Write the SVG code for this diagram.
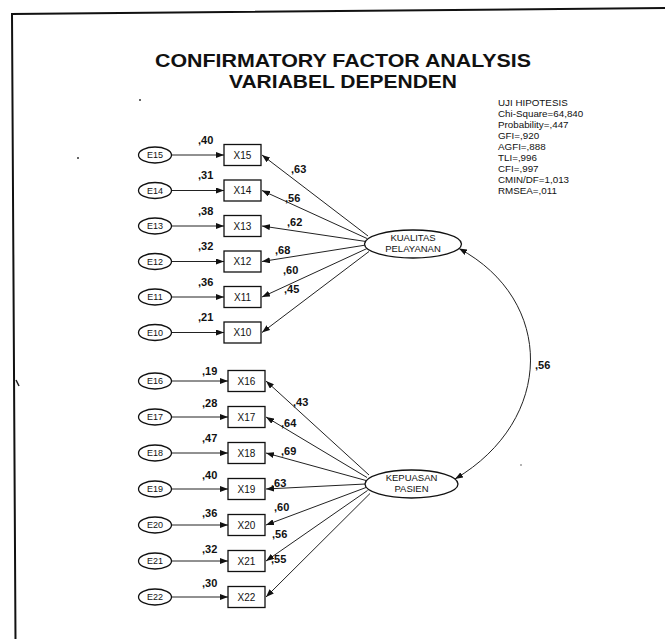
<svg xmlns="http://www.w3.org/2000/svg" width="665" height="639" viewBox="0 0 665 639">
<style>
.title{font-family:"Liberation Sans",Arial,sans-serif;font-weight:bold;font-size:18px;fill:#111;text-anchor:middle}
.stat{font-family:"Liberation Sans",Arial,sans-serif;font-size:9.8px;fill:#111}
.el{fill:#fff;stroke:#111;stroke-width:1.3}
.bx{fill:#fff;stroke:#111;stroke-width:1.3}
.et{font-family:"Liberation Sans",Arial,sans-serif;font-size:9px;fill:#111;text-anchor:middle}
.xt{font-family:"Liberation Sans",Arial,sans-serif;font-size:10px;fill:#111;text-anchor:middle}
.lt{font-family:"Liberation Sans",Arial,sans-serif;font-size:9.5px;fill:#111;text-anchor:middle}
.num{font-family:"Liberation Sans",Arial,sans-serif;font-size:11px;font-weight:bold;fill:#111}
.cn{stroke:#222;stroke-width:1;fill:none;marker-end:url(#ah)}
.cov{stroke:#222;stroke-width:1;fill:none;marker-end:url(#ah);marker-start:url(#ahs)}
.frame{stroke:#111;stroke-width:2;fill:none}
</style>
<defs>
<marker id="ah" markerWidth="8" markerHeight="6" refX="8" refY="3" orient="auto" markerUnits="userSpaceOnUse"><path d="M0,0 L8,3 L0,6 z" fill="#111"/></marker>
<marker id="ahs" markerWidth="8" markerHeight="6" refX="8" refY="3" orient="auto-start-reverse" markerUnits="userSpaceOnUse"><path d="M0,0 L8,3 L0,6 z" fill="#111"/></marker>
</defs>
<rect width="665" height="639" fill="#fff"/>
<path class="frame" d="M665,8 L12,14 L15.5,639"/>
<line x1="16" y1="380" x2="19" y2="386" stroke="#222" stroke-width="1.5"/>
<circle cx="140" cy="100" r="1" fill="#333"/>
<circle cx="78" cy="158" r="1" fill="#333"/>
<circle cx="521" cy="465" r="0.8" fill="#555"/>
<text class="title" x="343" y="67" textLength="376" lengthAdjust="spacingAndGlyphs">CONFIRMATORY FACTOR ANALYSIS</text>
<text class="title" x="343" y="87.5" textLength="228" lengthAdjust="spacingAndGlyphs">VARIABEL DEPENDEN</text>
<g id="stats">
<text class="stat" x="498" y="106">UJI HIPOTESIS</text>
<text class="stat" x="498" y="117">Chi-Square=64,840</text>
<text class="stat" x="498" y="128">Probability=,447</text>
<text class="stat" x="498" y="139">GFI=,920</text>
<text class="stat" x="498" y="150">AGFI=,888</text>
<text class="stat" x="498" y="161">TLI=,996</text>
<text class="stat" x="498" y="172">CFI=,997</text>
<text class="stat" x="498" y="183">CMIN/DF=1,013</text>
<text class="stat" x="498" y="194">RMSEA=,011</text>
</g>
<g id="connectors">
<line class="cn" x1="171.5" y1="155" x2="224" y2="155"/>
<line class="cn" x1="171.5" y1="190.5" x2="224" y2="190.5"/>
<line class="cn" x1="171.5" y1="226" x2="224" y2="226"/>
<line class="cn" x1="171.5" y1="261.5" x2="224" y2="261.5"/>
<line class="cn" x1="171.5" y1="297" x2="224" y2="297"/>
<line class="cn" x1="171.5" y1="332.5" x2="224" y2="332.5"/>
<line class="cn" x1="171.5" y1="381" x2="228" y2="381"/>
<line class="cn" x1="171.5" y1="417" x2="228" y2="417"/>
<line class="cn" x1="171.5" y1="453" x2="228" y2="453"/>
<line class="cn" x1="171.5" y1="489" x2="228" y2="489"/>
<line class="cn" x1="171.5" y1="525" x2="228" y2="525"/>
<line class="cn" x1="171.5" y1="561" x2="228" y2="561"/>
<line class="cn" x1="171.5" y1="597" x2="228" y2="597"/>
<line class="cn" x1="368" y1="236" x2="262" y2="155"/>
<line class="cn" x1="367" y1="238.5" x2="262" y2="190.5"/>
<line class="cn" x1="366" y1="241.5" x2="262" y2="226"/>
<line class="cn" x1="366" y1="245" x2="262" y2="261.5"/>
<line class="cn" x1="367" y1="248.5" x2="262" y2="297"/>
<line class="cn" x1="369" y1="251.5" x2="262" y2="332.5"/>
<line class="cn" x1="369" y1="475" x2="266" y2="381"/>
<line class="cn" x1="367" y1="477.5" x2="266" y2="417"/>
<line class="cn" x1="366" y1="480.5" x2="266" y2="453"/>
<line class="cn" x1="365.5" y1="484" x2="266" y2="489"/>
<line class="cn" x1="366" y1="487.5" x2="266" y2="525"/>
<line class="cn" x1="367.5" y1="490.5" x2="266" y2="561"/>
<line class="cn" x1="370" y1="493.5" x2="266" y2="597"/>
<path class="cov" d="M459,248.5 C555,300 555,420 455,479"/>
</g>
<g id="labels">
<text class="num" x="198" y="143.5">,40</text>
<text class="num" x="198" y="179">,31</text>
<text class="num" x="198" y="214.5">,38</text>
<text class="num" x="198" y="250">,32</text>
<text class="num" x="198" y="285.5">,36</text>
<text class="num" x="198" y="321">,21</text>
<text class="num" x="202" y="375">,19</text>
<text class="num" x="202" y="407">,28</text>
<text class="num" x="202" y="442">,47</text>
<text class="num" x="202" y="479">,40</text>
<text class="num" x="202" y="517">,36</text>
<text class="num" x="202" y="553">,32</text>
<text class="num" x="202" y="587">,30</text>
<text class="num" x="291" y="173">,63</text>
<text class="num" x="285" y="202">,56</text>
<text class="num" x="287" y="226">,62</text>
<text class="num" x="275" y="254">,68</text>
<text class="num" x="283" y="274">,60</text>
<text class="num" x="284" y="293">,45</text>
<text class="num" x="293" y="406">,43</text>
<text class="num" x="281" y="427">,64</text>
<text class="num" x="281" y="455">,69</text>
<text class="num" x="271" y="487">,63</text>
<text class="num" x="274" y="511">,60</text>
<text class="num" x="272" y="538">,56</text>
<text class="num" x="271" y="563">,55</text>
<text class="num" x="535" y="369">,56</text>
</g>
<g id="E15"><ellipse class="el" cx="155" cy="155" rx="16.5" ry="8"/><text class="et" x="155" y="158.2">E15</text></g>
<g id="E14"><ellipse class="el" cx="155" cy="190.5" rx="16.5" ry="8"/><text class="et" x="155" y="193.7">E14</text></g>
<g id="E13"><ellipse class="el" cx="155" cy="226" rx="16.5" ry="8"/><text class="et" x="155" y="229.2">E13</text></g>
<g id="E12"><ellipse class="el" cx="155" cy="261.5" rx="16.5" ry="8"/><text class="et" x="155" y="264.7">E12</text></g>
<g id="E11"><ellipse class="el" cx="155" cy="297" rx="16.5" ry="8"/><text class="et" x="155" y="300.2">E11</text></g>
<g id="E10"><ellipse class="el" cx="155" cy="332.5" rx="16.5" ry="8"/><text class="et" x="155" y="335.7">E10</text></g>
<g id="E16"><ellipse class="el" cx="155" cy="381" rx="16.5" ry="8"/><text class="et" x="155" y="384.2">E16</text></g>
<g id="E17"><ellipse class="el" cx="155" cy="417" rx="16.5" ry="8"/><text class="et" x="155" y="420.2">E17</text></g>
<g id="E18"><ellipse class="el" cx="155" cy="453" rx="16.5" ry="8"/><text class="et" x="155" y="456.2">E18</text></g>
<g id="E19"><ellipse class="el" cx="155" cy="489" rx="16.5" ry="8"/><text class="et" x="155" y="492.2">E19</text></g>
<g id="E20"><ellipse class="el" cx="155" cy="525" rx="16.5" ry="8"/><text class="et" x="155" y="528.2">E20</text></g>
<g id="E21"><ellipse class="el" cx="155" cy="561" rx="16.5" ry="8"/><text class="et" x="155" y="564.2">E21</text></g>
<g id="E22"><ellipse class="el" cx="155" cy="597" rx="16.5" ry="8"/><text class="et" x="155" y="600.2">E22</text></g>
<g id="X15"><rect class="bx" x="224" y="144.5" width="37" height="21"/><text class="xt" x="242.5" y="158.5">X15</text></g>
<g id="X14"><rect class="bx" x="224" y="180" width="37" height="21"/><text class="xt" x="242.5" y="194">X14</text></g>
<g id="X13"><rect class="bx" x="224" y="215.5" width="37" height="21"/><text class="xt" x="242.5" y="229.5">X13</text></g>
<g id="X12"><rect class="bx" x="224" y="251" width="37" height="21"/><text class="xt" x="242.5" y="265">X12</text></g>
<g id="X11"><rect class="bx" x="224" y="286.5" width="37" height="21"/><text class="xt" x="242.5" y="300.5">X11</text></g>
<g id="X10"><rect class="bx" x="224" y="322" width="37" height="21"/><text class="xt" x="242.5" y="336">X10</text></g>
<g id="X16"><rect class="bx" x="228" y="370.5" width="37" height="21"/><text class="xt" x="246.5" y="384.5">X16</text></g>
<g id="X17"><rect class="bx" x="228" y="406.5" width="37" height="21"/><text class="xt" x="246.5" y="420.5">X17</text></g>
<g id="X18"><rect class="bx" x="228" y="442.5" width="37" height="21"/><text class="xt" x="246.5" y="456.5">X18</text></g>
<g id="X19"><rect class="bx" x="228" y="478.5" width="37" height="21"/><text class="xt" x="246.5" y="492.5">X19</text></g>
<g id="X20"><rect class="bx" x="228" y="514.5" width="37" height="21"/><text class="xt" x="246.5" y="528.5">X20</text></g>
<g id="X21"><rect class="bx" x="228" y="550.5" width="37" height="21"/><text class="xt" x="246.5" y="564.5">X21</text></g>
<g id="X22"><rect class="bx" x="228" y="586.5" width="37" height="21"/><text class="xt" x="246.5" y="600.5">X22</text></g>
<g id="KUALITAS_PELAYANAN"><ellipse class="el" cx="413" cy="244" rx="48.5" ry="14"/><text class="lt" x="413" y="241">KUALITAS</text><text class="lt" x="413" y="252">PELAYANAN</text></g>
<g id="KEPUASAN_PASIEN"><ellipse class="el" cx="411.5" cy="484" rx="46.5" ry="14"/><text class="lt" x="411.5" y="481">KEPUASAN</text><text class="lt" x="411.5" y="492">PASIEN</text></g>
</svg>
